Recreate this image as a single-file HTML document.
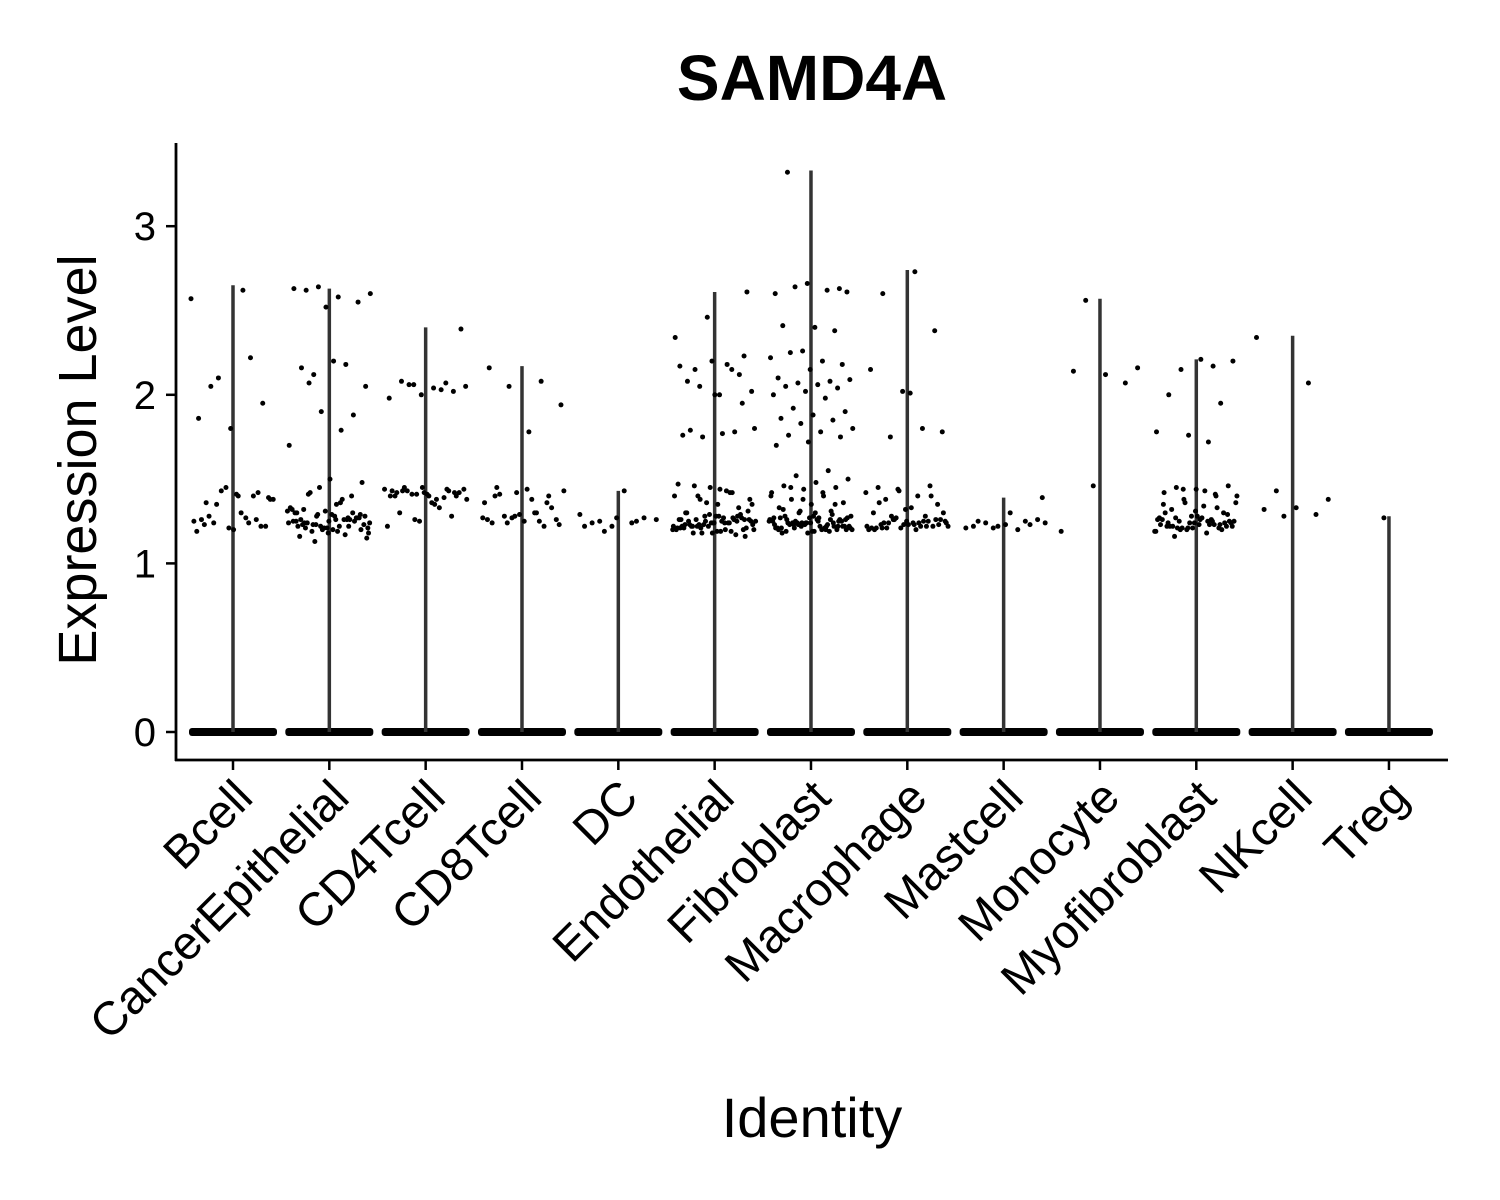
<!DOCTYPE html>
<html><head><meta charset="utf-8"><style>
html,body{margin:0;padding:0;background:#fff}
svg{display:block;font-family:"Liberation Sans",Arial,sans-serif}
</style></head><body>
<svg id="chart" width="1500" height="1200" viewBox="0 0 1500 1200">
<text x="812" y="100" text-anchor="middle" font-size="64" font-weight="bold">SAMD4A</text>
<text transform="translate(96,460) rotate(-90)" text-anchor="middle" font-size="54">Expression Level</text>
<text x="812" y="1137" text-anchor="middle" font-size="56">Identity</text>
<g id="plot"></g>
</svg>
<script>
const categories=["Bcell","CancerEpithelial","CD4Tcell","CD8Tcell","DC","Endothelial","Fibroblast","Macrophage","Mastcell","Monocyte","Myofibroblast","NKcell","Treg"];
const maxValues=[2.65,2.63,2.40,2.17,1.43,2.61,3.33,2.74,1.39,2.57,2.21,2.35,1.28];
const yTicks=[0,1,2,3];
const pointsBcell="2.57 2.62 2.05 1.95 1.80 1.86 2.22 2.10 1.38 1.40 1.36 1.42 1.45 1.25 1.27 1.24 1.22 1.20 1.26 1.40 1.43 1.38 1.30 1.28 1.22 1.21 1.19 1.24 1.35 1.39 1.41 1.23 1.26";
const pointsCancerEpithelial="2.64 2.60 2.58 2.62 2.55 2.52 2.63 2.18 2.12 2.05 2.20 2.16 1.88 1.90 1.70 1.79 2.07 1.20 1.25 1.30 1.22 1.28 1.18 1.35 1.24 1.27 1.21 1.32 1.26 1.19 1.23 1.29 1.16 1.40 1.45 1.31 1.22 1.24 1.27 1.21 1.30 1.26 1.13 1.15 1.28 1.23 1.25 1.20 1.33 1.38 1.42 1.48 1.50 1.22 1.26 1.29 1.24 1.19 1.21 1.27 1.31 1.25 1.17 1.23 1.28 1.20 1.26 1.30 1.22 1.24 1.36 1.41 1.29 1.18 1.25 1.27 1.23 1.21 1.26 1.32";
const pointsCD4Tcell="2.07 2.06 2.05 2.04 2.08 2.02 2.00 1.98 2.03 2.06 2.39 1.40 1.42 1.43 1.41 1.44 1.38 1.45 1.40 1.42 1.43 1.39 1.41 1.44 1.36 1.30 1.28 1.25 1.22 1.33 1.43 1.42 1.41 1.40 1.44 1.26 1.38 1.35 1.43 1.42 1.45 1.40";
const pointsCD8Tcell="2.16 2.08 2.05 1.94 1.78 1.45 1.40 1.42 1.36 1.30 1.28 1.26 1.25 1.24 1.22 1.27 1.43 1.38 1.41 1.33 1.29 1.26 1.25 1.24 1.23 1.44 1.40 1.36 1.28 1.27 1.30";
const pointsDC="1.27 1.22 1.25 1.19 1.26 1.43 1.24 1.27 1.22 1.29 1.24 1.25";
const pointsEndothelial="2.23 2.20 2.17 2.15 2.05 2.02 2.00 2.08 2.12 2.46 2.34 2.18 2.15 2.61 2.00 1.76 1.78 1.75 1.80 1.77 1.79 1.95 1.45 1.47 1.42 1.40 1.38 1.35 1.30 1.28 1.25 1.22 1.20 1.18 1.16 1.24 1.26 1.27 1.21 1.23 1.19 1.25 1.29 1.22 1.20 1.24 1.26 1.31 1.28 1.21 1.17 1.23 1.25 1.27 1.22 1.20 1.24 1.26 1.19 1.23 1.25 1.28 1.30 1.33 1.36 1.40 1.43 1.46 1.21 1.24 1.22 1.26 1.18 1.20 1.25 1.23 1.27 1.29 1.21 1.24 1.22 1.26 1.19 1.23 1.25 1.28 1.20 1.24 1.22 1.26 1.18 1.21 1.42 1.38 1.35 1.44";
const pointsFibroblast="3.32 2.63 2.66 2.60 2.62 2.64 2.61 2.40 2.41 2.38 2.26 2.22 2.20 2.25 2.18 2.15 2.10 2.08 2.07 2.09 2.06 2.05 2.04 2.02 2.00 1.98 1.92 1.90 1.88 1.86 1.85 1.83 1.80 1.78 1.76 1.75 1.72 1.70 1.55 1.52 1.50 1.48 1.46 1.45 1.44 1.42 1.40 1.38 1.36 1.35 1.33 1.31 1.30 1.28 1.27 1.26 1.25 1.24 1.23 1.22 1.21 1.20 1.19 1.18 1.22 1.24 1.26 1.20 1.23 1.25 1.27 1.21 1.19 1.24 1.22 1.26 1.28 1.20 1.23 1.25 1.21 1.24 1.22 1.19 1.27 1.29 1.31 1.20 1.22 1.24 1.26 1.18 1.21 1.23 1.25 1.27 1.30 1.32 1.35 1.38 1.40 1.42 1.45 1.22 1.24 1.20 1.26 1.23 1.21 1.25 1.19 1.22 1.24 1.27 1.20 1.23 1.26 1.28 1.21 1.24 1.22 1.25";
const pointsMacrophage="2.73 2.60 2.38 2.02 2.15 1.80 1.75 1.78 2.01 1.45 1.46 1.44 1.42 1.40 1.38 1.35 1.32 1.30 1.28 1.26 1.25 1.24 1.23 1.22 1.21 1.20 1.22 1.24 1.26 1.23 1.21 1.25 1.27 1.22 1.20 1.24 1.26 1.23 1.21 1.25 1.28 1.30 1.33 1.36 1.40 1.43 1.22 1.24 1.21 1.23 1.25 1.20 1.22 1.26 1.24 1.23 1.21";
const pointsMastcell="1.39 1.30 1.25 1.23 1.22 1.21 1.20 1.24 1.26 1.23 1.22 1.25 1.21 1.24";
const pointsMonocyte="2.56 2.16 2.12 2.14 2.07 1.46 1.19";
const pointsMyofibroblast="2.17 2.15 2.20 2.21 2.00 1.95 1.76 1.78 1.72 1.45 1.46 1.44 1.42 1.40 1.38 1.36 1.34 1.32 1.30 1.28 1.27 1.26 1.25 1.24 1.23 1.22 1.21 1.20 1.19 1.18 1.16 1.22 1.24 1.26 1.23 1.21 1.25 1.27 1.22 1.20 1.24 1.26 1.23 1.21 1.25 1.28 1.30 1.33 1.36 1.40 1.43 1.22 1.24 1.21 1.23 1.25 1.20 1.22 1.26 1.24 1.23 1.21 1.19 1.25 1.27 1.29 1.31 1.35 1.41 1.44";
const pointsNKcell="2.34 2.07 1.43 1.38 1.33 1.32 1.29 1.28";
const pointsTreg="1.27";
const pointSets=[pointsBcell,pointsCancerEpithelial,pointsCD4Tcell,pointsCD8Tcell,pointsDC,pointsEndothelial,pointsFibroblast,pointsMacrophage,pointsMastcell,pointsMonocyte,pointsMyofibroblast,pointsNKcell,pointsTreg];

const NS="http://www.w3.org/2000/svg";
const g=document.getElementById("plot");
const X0=176,X1=1448,YTOP=143,YBOT=760;
const xScale=i=>233+i*96.33;
const yScale=v=>732-v*168.6;
function mk(t,a){const e=document.createElementNS(NS,t);for(const k in a)e.setAttribute(k,a[k]);g.appendChild(e);return e;}

categories.forEach((c,i)=>{
  const cx=xScale(i);
  const band=mk("rect",{x:cx-44,y:yScale(0)-4,width:88,height:8,rx:3,fill:"#000"});
  
  
  const vl=mk("line",{x1:cx,x2:cx,y1:yScale(0),y2:yScale(maxValues[i]),stroke:"#333",'stroke-width':3.5});
  
  
  const vals=pointSets[i].trim().split(/\s+/).map(Number);
  vals.forEach((v,j)=>{
    const jit=((j*0.618034+i*0.37)%1)*84-42;
    const p=mk("circle",{cx:cx+jit,cy:yScale(v),r:2.5,fill:"#000"});
    
    
  });
  const tk=mk("line",{x1:cx,x2:cx,y1:YBOT,y2:YBOT+10,stroke:"#000",'stroke-width':2.5});
  
  
  const lb=mk("text",{transform:`translate(${cx+22},${YBOT+40}) rotate(-45)`,'text-anchor':'end','font-size':47});
  lb.textContent=c;
  
  
});
yTicks.forEach(t=>{
  const y=yScale(t);
  const tk=mk("line",{x1:X0-10,x2:X0,y1:y,y2:y,stroke:"#000",'stroke-width':2.5});
  
  
  const lb=mk("text",{x:X0-20,y:y+14,'text-anchor':'end','font-size':40});
  lb.textContent=t;
  
  
});
const ya=mk("line",{x1:X0,x2:X0,y1:YTOP,y2:YBOT+1,stroke:"#000",'stroke-width':2.8});


const xa=mk("line",{x1:X0-1,x2:X1,y1:YBOT,y2:YBOT,stroke:"#000",'stroke-width':2.8});


</script>
</body></html>
